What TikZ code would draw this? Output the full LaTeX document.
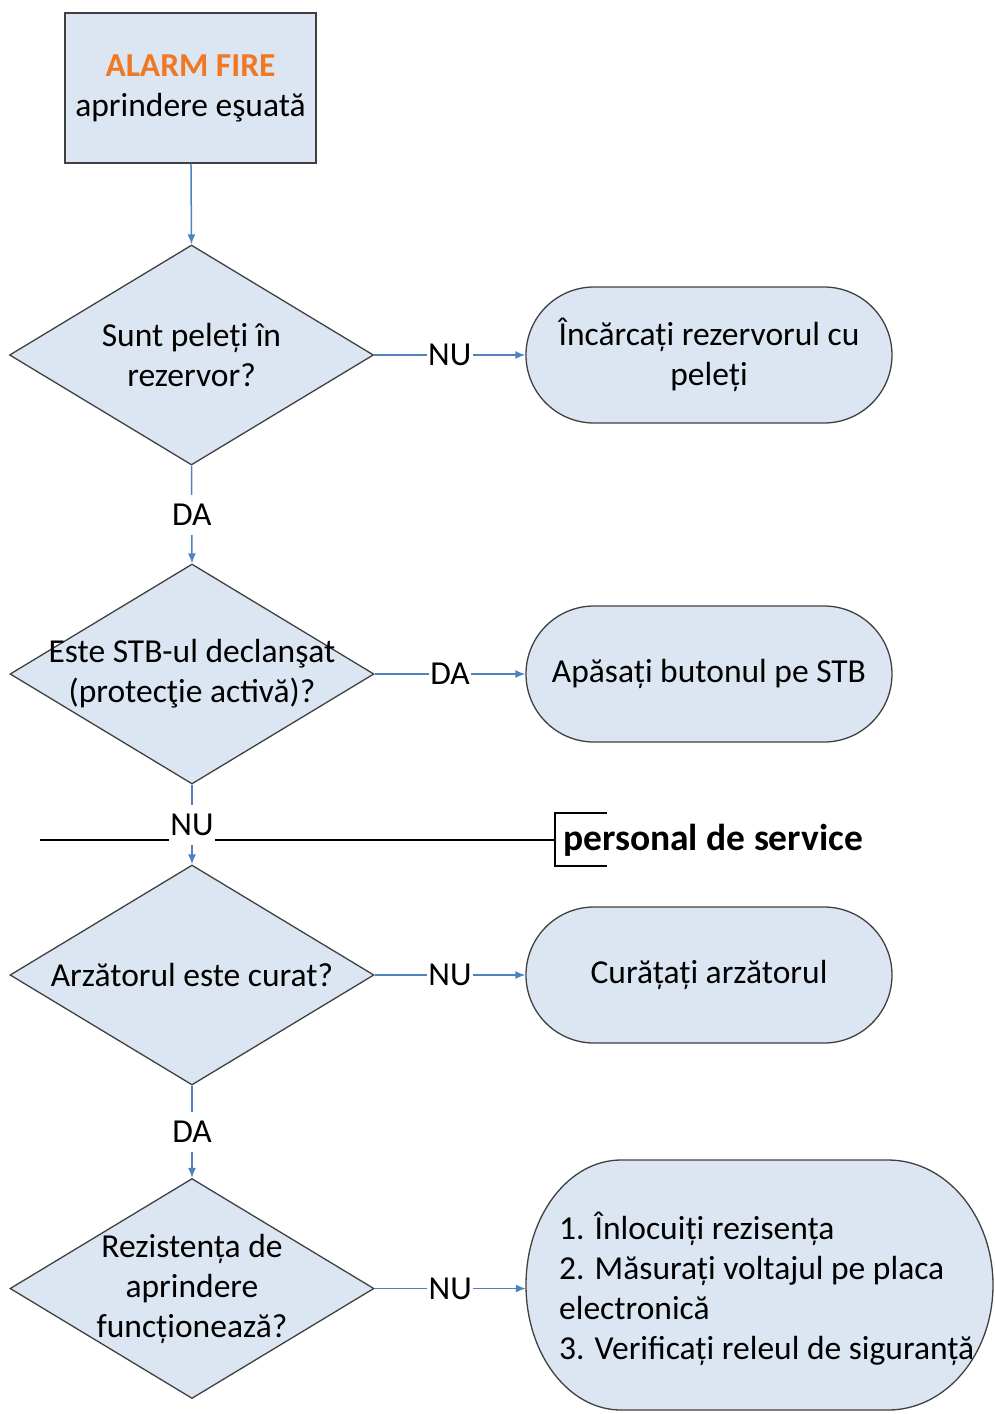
\documentclass[tikz,border=0pt]{standalone}
\usepackage{fontspec}
\setmainfont{Carlito}
\usetikzlibrary{shapes.geometric,arrows.meta}
\definecolor{boxfill}{HTML}{DCE6F2}
\definecolor{boxline}{HTML}{404040}
\definecolor{arrowblue}{HTML}{4F81BD}
\definecolor{alarmorange}{HTML}{F07822}
\begin{document}
\begin{tikzpicture}[x=1pt,y=-1pt,
  every node/.style={font=\fontsize{33.5}{40}\selectfont},
  startbox/.style={draw=boxline,fill=boxfill,line width=1.3pt,rectangle,minimum width=251pt,minimum height=150pt,align=center,inner sep=0pt},
  decision/.style={draw=boxline,fill=boxfill,line width=1.3pt,diamond,minimum width=364pt,minimum height=220pt,inner sep=0pt},
  dtext/.style={align=center,inner sep=0pt},
  actbox/.style={draw=boxline,fill=boxfill,line width=1.3pt,rectangle,rounded corners=68pt,minimum width=366pt,minimum height=136pt,align=center,inner sep=0pt},
  conn/.style={draw=arrowblue,line width=1.5pt,-{Latex[length=10pt,width=8pt]}},
  lbl/.style={fill=white,inner sep=1.5pt,text=black,minimum height=40pt,minimum width=42pt},
]
\useasboundingbox (0,0) rectangle (995,1414);

% start
\node[startbox] (start) at (190.5,88) {{\bfseries\color{alarmorange}ALARM FIRE}\\aprindere eşuată};

% decisions
\node[decision] (d1) at (191.5,355) {};
\node[dtext] (t1) at (191.5,355) {Sunt peleți în\\rezervor?};
\node[decision] (d2) at (192,674) {};
\node[dtext] (t2) at (192,674) {Este STB-ul declanşat\\(protecţie activă)?};
\node[decision] (d3) at (192,975) {};
\node[dtext] (t3) at (192,975) {Arzătorul este curat?};
\node[decision] (d4) at (192,1288.5) {};
\node[dtext] (t4) at (192,1288.5) {Rezistența de\\aprindere\\funcționează?};

% actions
\node[actbox] (a1) at (709,355) {Încărcați rezervorul cu\\peleți};
\node[actbox] (a2) at (709,674) {Apăsați butonul pe STB};
\node[actbox] (a3) at (709,975) {Curățați arzătorul};
\path[draw=boxline,fill=boxfill,line width=1.3pt]
  (621,1160) -- (888,1160) arc[start angle=-90,end angle=90,x radius=105,y radius=125]
  -- (621,1410) arc[start angle=90,end angle=270,x radius=95,y radius=125] -- cycle;
\node[inner sep=0pt,minimum width=467pt,minimum height=250pt] (a4) at (759.5,1288.5) {};
\node[align=left,anchor=west,inner sep=0pt] (a4t) at (559,1288.5) {1. Înlocuiți rezisența\\2. Măsurați voltajul pe placa\\electronică\\3. Verificați releul de siguranță};

% service line
\coordinate (sl) at (40,840);
\coordinate (br) at (555,840);
\draw[black,line width=1.2pt] (sl) -- (br);
\draw[black,line width=1.2pt] (607,813) -- (555,813) -- (555,866) -- (607,866);
\node[anchor=west,inner sep=0pt,font=\fontsize{37.5}{44}\selectfont\bfseries] (svc) at (563,840) {personal de service};

% connectors
\draw[conn] (start) -- (d1.north);
\draw[conn] (d1.east) -- node[lbl] {NU} (a1.west);
\draw[conn] (d1.south) -- node[lbl] {DA} (d2.north);
\draw[conn] (d2.east) -- node[lbl] {DA} (a2.west);
\draw[conn] (d2.south) -- node[lbl,pos=0.5] {NU} (d3.north);
\draw[conn] (d3.east) -- node[lbl] {NU} (a3.west);
\draw[conn] (d3.south) -- node[lbl] {DA} (d4.north);
\draw[conn] (d4.east) -- node[lbl] {NU} (a4.west);
\end{tikzpicture}
\end{document}
